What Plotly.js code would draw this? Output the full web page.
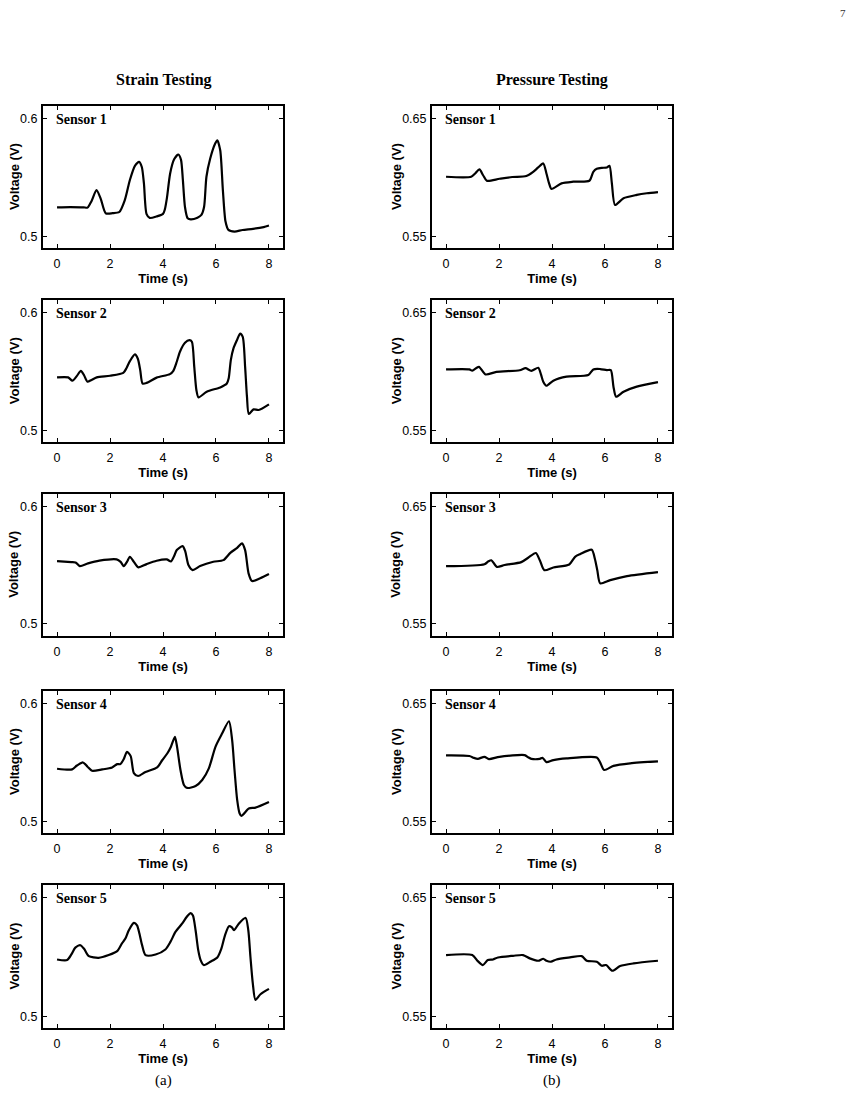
<!DOCTYPE html>
<html>
<head>
<meta charset="utf-8">
<script src="https://cdn.plot.ly/plotly-3.0.1.min.js"></script>
<style>
  html, body { margin: 0; padding: 0; background: #ffffff; }
  #fig { width: 859px; height: 1103px; }
</style>
</head>
<body>
<div id="fig"></div>
<script>
// ---- Strain testing: time (s) and voltage (V) per sensor ----
const strainT1 = [0, 0.5, 1.0, 1.15, 1.3, 1.49, 1.65, 1.84, 2.1, 2.35, 2.56, 2.75, 2.94, 3.1, 3.2, 3.28, 3.38, 3.5, 3.75, 4.0, 4.07, 4.15, 4.27, 4.42, 4.58, 4.68, 4.75, 4.83, 4.93, 5.05, 5.3, 5.45, 5.55, 5.64, 5.78, 5.97, 6.05, 6.16, 6.26, 6.36, 6.47, 6.7, 7.0, 7.4, 7.8, 8.0];
const strainV1 = [0.5248, 0.525, 0.5248, 0.5245, 0.530, 0.5394, 0.532, 0.5197, 0.5198, 0.5208, 0.531, 0.548, 0.560, 0.5634, 0.559, 0.545, 0.519, 0.5158, 0.517, 0.5192, 0.523, 0.533, 0.5535, 0.5655, 0.5696, 0.565, 0.548, 0.525, 0.5155, 0.5146, 0.516, 0.5183, 0.525, 0.5507, 0.566, 0.5789, 0.5817, 0.5732, 0.5394, 0.5127, 0.5056, 0.5042, 0.5055, 0.5065, 0.508, 0.5093];

const strainT2 = [0, 0.42, 0.58, 0.75, 0.9, 1.02, 1.15, 1.3, 1.5, 2.0, 2.5, 2.62, 2.75, 2.94, 3.05, 3.14, 3.23, 3.38, 3.76, 4.26, 4.39, 4.52, 4.64, 4.83, 5.0, 5.09, 5.18, 5.26, 5.34, 5.65, 6.16, 6.41, 6.48, 6.56, 6.66, 6.79, 6.91, 7.01, 7.1, 7.17, 7.24, 7.42, 7.61, 8.0];
const strainV2 = [0.5452, 0.5452, 0.5424, 0.5465, 0.5508, 0.547, 0.5415, 0.543, 0.5452, 0.5466, 0.549, 0.553, 0.559, 0.5647, 0.561, 0.5514, 0.540, 0.5405, 0.545, 0.548, 0.5508, 0.5585, 0.567, 0.5746, 0.5768, 0.5755, 0.5542, 0.5345, 0.5282, 0.533, 0.5367, 0.540, 0.5444, 0.5599, 0.5698, 0.5768, 0.5825, 0.5797, 0.5542, 0.5288, 0.5141, 0.518, 0.5175, 0.5223];

const strainT3 = [0, 0.54, 0.7, 0.86, 1.17, 1.6, 2.25, 2.4, 2.52, 2.64, 2.75, 2.9, 3.07, 3.38, 3.76, 4.14, 4.3, 4.42, 4.52, 4.74, 4.84, 4.96, 5.12, 5.4, 5.9, 6.28, 6.54, 6.8, 6.98, 7.1, 7.23, 7.36, 7.67, 8.0];
const strainV3 = [0.5537, 0.5528, 0.5525, 0.5494, 0.5517, 0.554, 0.5551, 0.553, 0.5494, 0.553, 0.5574, 0.553, 0.5483, 0.5511, 0.554, 0.5551, 0.5534, 0.558, 0.5631, 0.5665, 0.562, 0.5503, 0.546, 0.5494, 0.5531, 0.5545, 0.5607, 0.565, 0.5688, 0.563, 0.5432, 0.5366, 0.539, 0.5426];

const strainT4 = [0, 0.57, 0.75, 0.98, 1.15, 1.32, 1.7, 2.08, 2.27, 2.39, 2.52, 2.64, 2.78, 2.9, 3.06, 3.34, 3.78, 3.97, 4.16, 4.3, 4.45, 4.53, 4.66, 4.79, 4.91, 5.23, 5.48, 5.73, 5.98, 6.23, 6.49, 6.61, 6.7, 6.8, 6.89, 6.96, 7.24, 7.49, 8.0];
const strainV4 = [0.5448, 0.5442, 0.5475, 0.5501, 0.5465, 0.5431, 0.5442, 0.5459, 0.5487, 0.5487, 0.553, 0.5592, 0.5555, 0.5411, 0.5386, 0.5420, 0.5459, 0.552, 0.5577, 0.5635, 0.5718, 0.5634, 0.5437, 0.531, 0.5285, 0.5301, 0.5352, 0.5451, 0.5634, 0.5746, 0.5851, 0.569, 0.5437, 0.5183, 0.507, 0.5048, 0.5110, 0.5118, 0.5166];

const strainT5 = [0, 0.38, 0.54, 0.69, 0.88, 1.02, 1.2, 1.57, 1.95, 2.27, 2.45, 2.58, 2.71, 2.9, 3.02, 3.11, 3.21, 3.34, 3.72, 4.09, 4.28, 4.47, 4.72, 4.9, 5.04, 5.13, 5.23, 5.33, 5.42, 5.54, 5.79, 6.05, 6.2, 6.34, 6.49, 6.6, 6.68, 6.86, 7.12, 7.22, 7.3, 7.39, 7.49, 7.68, 8.0];
const strainV5 = [0.548, 0.5475, 0.5522, 0.558, 0.560, 0.557, 0.5508, 0.5494, 0.5517, 0.555, 0.5615, 0.5656, 0.5726, 0.5788, 0.5768, 0.5698, 0.5601, 0.5517, 0.5522, 0.5564, 0.5628, 0.5712, 0.5782, 0.584, 0.5871, 0.585, 0.5726, 0.5559, 0.5475, 0.5433, 0.5461, 0.5497, 0.557, 0.5684, 0.576, 0.575, 0.5726, 0.5782, 0.583, 0.5726, 0.5503, 0.5279, 0.514, 0.5187, 0.5232];

// ---- Pressure testing: time (s) and voltage (V) per sensor ----
const pressT1 = [0, 0.95, 1.1, 1.26, 1.4, 1.54, 2.02, 2.5, 3.03, 3.29, 3.48, 3.67, 3.79, 3.89, 3.98, 4.36, 4.8, 5.41, 5.56, 5.69, 5.88, 6.07, 6.17, 6.26, 6.38, 6.7, 7.2, 7.58, 8.0];
const pressV1 = [0.6007, 0.6007, 0.6035, 0.6069, 0.602, 0.5973, 0.599, 0.6005, 0.6013, 0.6049, 0.6086, 0.612, 0.6035, 0.5951, 0.5903, 0.5951, 0.5965, 0.5973, 0.6049, 0.6075, 0.6083, 0.6085, 0.610, 0.5951, 0.5768, 0.5825, 0.5853, 0.5867, 0.5877];

const pressT2 = [0, 0.88, 0.99, 1.24, 1.49, 1.9, 2.78, 3.0, 3.22, 3.48, 3.58, 3.67, 3.79, 4.05, 4.55, 5.37, 5.56, 5.82, 6.07, 6.22, 6.32, 6.42, 6.7, 7.2, 8.0];
const pressV2 = [0.602, 0.602, 0.6009, 0.6042, 0.5977, 0.5999, 0.6013, 0.603, 0.6008, 0.6034, 0.598, 0.5915, 0.5881, 0.5924, 0.5958, 0.5972, 0.602, 0.6023, 0.6014, 0.6014, 0.5873, 0.5788, 0.583, 0.5873, 0.5912];

const pressT3 = [0, 1.45, 1.6, 1.71, 1.92, 2.21, 2.84, 3.1, 3.39, 3.54, 3.71, 4.05, 4.65, 4.87, 5.06, 5.5, 5.62, 5.71, 5.82, 6.2, 6.83, 8.0];
const pressV3 = [0.5993, 0.601, 0.6035, 0.6044, 0.5987, 0.6003, 0.6028, 0.6065, 0.6106, 0.6044, 0.5959, 0.5982, 0.6008, 0.6073, 0.6096, 0.6134, 0.6055, 0.5959, 0.5846, 0.5874, 0.5908, 0.5942];

const pressT4 = [0, 0.88, 1.05, 1.2, 1.45, 1.62, 2.02, 2.97, 3.1, 3.22, 3.54, 3.64, 3.79, 4.05, 4.55, 5.69, 5.82, 5.97, 6.32, 6.95, 8.0];
const pressV4 = [0.6061, 0.6056, 0.604, 0.6032, 0.6049, 0.603, 0.6049, 0.6063, 0.6045, 0.6032, 0.6032, 0.6041, 0.6004, 0.6021, 0.6035, 0.6043, 0.6, 0.5937, 0.5972, 0.5994, 0.601];

const pressT5 = [0, 0.99, 1.2, 1.39, 1.58, 1.77, 1.96, 2.53, 2.91, 3.16, 3.48, 3.67, 3.79, 3.96, 4.17, 4.68, 5.12, 5.31, 5.69, 5.88, 6.04, 6.28, 6.57, 7.08, 8.0];
const pressV5 = [0.6017, 0.6017, 0.5966, 0.5933, 0.5975, 0.5980, 0.5997, 0.6011, 0.6017, 0.5989, 0.5969, 0.5986, 0.5969, 0.5961, 0.5980, 0.5997, 0.6008, 0.5969, 0.5961, 0.5927, 0.5933, 0.5885, 0.5925, 0.5947, 0.5969];

// ---- Labels and tick values ----
const sensorNames = ['Sensor 1', 'Sensor 2', 'Sensor 3', 'Sensor 4', 'Sensor 5'];
const columnTitles = ['Strain Testing', 'Pressure Testing'];
const panelCaptions = ['(a)', '(b)'];
const timeTicks = [0, 2, 4, 6, 8];
const strainTicks = [0.5, 0.6];
const pressTicks = [0.55, 0.65];
const xTitle = 'Time (s)';
const yTitle = 'Voltage (V)';
const pageNumber = '7';

const strainSeries = [[strainT1, strainV1], [strainT2, strainV2], [strainT3, strainV3], [strainT4, strainV4], [strainT5, strainV5]];
const pressSeries = [[pressT1, pressV1], [pressT2, pressV2], [pressT3, pressV3], [pressT4, pressV4], [pressT5, pressV5]];

// ---- Page geometry (pixels) ----
const W = 859, H = 1103;
const colLeft = [[43, 283], [432, 672]];
const rowTop = [[105.7, 248.3], [300, 442.3], [494, 635.6], [690.7, 833.3], [884.7, 1028.3]];
const yTitleX = [14, 396];
const px = v => v / W;
const py = v => 1 - v / H;

const SANS = 'Liberation Sans, Arial, sans-serif';
const SERIF = 'Liberation Serif, Times New Roman, serif';

const traces = [];
const layout = {
  width: W, height: H,
  margin: {l: 0, r: 0, t: 0, b: 0},
  paper_bgcolor: '#ffffff',
  plot_bgcolor: '#ffffff',
  showlegend: false,
  annotations: []
};

function axisBase() {
  return {
    showline: true, linecolor: '#000', linewidth: 2, mirror: 'ticks',
    ticks: 'inside', ticklen: 4, tickwidth: 1, tickcolor: '#000',
    showgrid: false, zeroline: false, fixedrange: true,
    tickfont: {family: SANS, size: 12.5, color: '#000'}
  };
}

let k = 0;
[strainSeries, pressSeries].forEach((series, c) => {
  series.forEach((s, r) => {
    k += 1;
    const xa = 'x' + (k === 1 ? '' : k);
    const ya = 'y' + (k === 1 ? '' : k);
    traces.push({
      x: s[0], y: s[1], xaxis: xa, yaxis: ya,
      type: 'scatter', mode: 'lines',
      line: {color: '#000', width: 2.2, shape: 'spline', smoothing: 0.7},
      hoverinfo: 'skip'
    });
    const xKey = 'xaxis' + (k === 1 ? '' : k);
    const yKey = 'yaxis' + (k === 1 ? '' : k);
    layout[xKey] = Object.assign(axisBase(), {
      domain: [px(colLeft[c][0]), px(colLeft[c][1])],
      anchor: ya, range: [-0.53, 8.53],
      tickvals: timeTicks,
      ticklabelstandoff: 3,
      title: {text: xTitle, font: {family: SANS, size: 13, weight: 'bold', color: '#000'}, standoff: 3}
    });
    const ticks = c === 0 ? strainTicks : pressTicks;
    const yr = c === 0 ? [0.49, 0.611] : [0.54, 0.661];
    layout[yKey] = Object.assign(axisBase(), {
      domain: [py(rowTop[r][1]), py(rowTop[r][0])],
      anchor: xa, range: yr,
      tickvals: ticks,
      ticklabelstandoff: 1
    });
    // vertical axis title, centred on the panel
    layout.annotations.push({
      text: yTitle, textangle: -90, xref: 'paper', yref: 'paper',
      x: px(yTitleX[c]), y: py((rowTop[r][0] + rowTop[r][1]) / 2),
      xanchor: 'center', yanchor: 'middle', showarrow: false,
      font: {family: SANS, size: 13, weight: 'bold', color: '#000'}
    });
    layout.annotations.push({
      text: sensorNames[r], xref: xa + ' domain', yref: ya + ' domain',
      x: 0.045, y: 0.902, xanchor: 'left', yanchor: 'middle', showarrow: false,
      font: {family: SERIF, size: 14, weight: 'bold', color: '#000'}
    });
  });
});

// column headings, panel captions and page number
const headX = [164, 552];
columnTitles.forEach((t, i) => {
  layout.annotations.push({
    text: t, xref: 'paper', yref: 'paper', x: px(headX[i]), y: py(80),
    xanchor: 'center', yanchor: 'middle', showarrow: false,
    font: {family: SERIF, size: 16, weight: 'bold', color: '#000'}
  });
});
const capX = [163, 552];
panelCaptions.forEach((t, i) => {
  layout.annotations.push({
    text: t, xref: 'paper', yref: 'paper', x: px(capX[i]), y: py(1080),
    xanchor: 'center', yanchor: 'middle', showarrow: false,
    font: {family: SERIF, size: 15, color: '#000'}
  });
});
layout.annotations.push({
  text: pageNumber, xref: 'paper', yref: 'paper', x: px(843), y: py(13),
  xanchor: 'center', yanchor: 'middle', showarrow: false,
  font: {family: SERIF, size: 11, color: '#333'}
});

Plotly.newPlot('fig', traces, layout, {staticPlot: true, displayModeBar: false});
</script>
</body>
</html>
